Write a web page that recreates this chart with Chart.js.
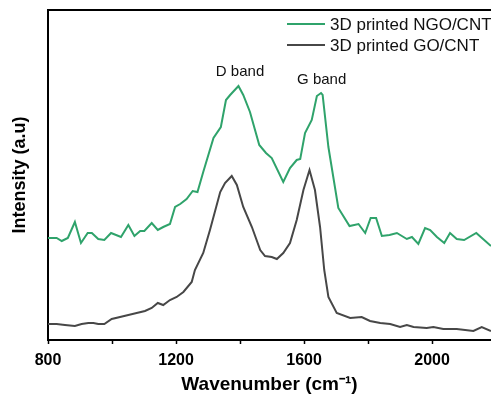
<!DOCTYPE html>
<html>
<head>
<meta charset="utf-8">
<script src="https://cdn.jsdelivr.net/npm/chart.js@4.4.1/dist/chart.umd.min.js"></script>
<style>
  html, body { margin: 0; padding: 0; background: #fff; }
  #wrap { width: 491px; height: 399px; }
</style>
</head>
<body>
<div id="wrap"><canvas id="raman"></canvas></div>
<script>
// Raman spectra (wavenumber in cm-1, intensity in arbitrary units)
const ngoX = [800, 827, 843, 862, 884, 903, 924, 937, 957, 976, 997, 1028, 1051, 1070, 1088, 1101, 1124, 1143, 1160, 1181,
    1197, 1213, 1233, 1252, 1267, 1285, 1317, 1340, 1356, 1369, 1395, 1410, 1431, 1460, 1481, 1499, 1535, 1556, 1577, 1588,
    1603, 1624, 1640, 1653, 1658, 1676, 1707, 1742, 1770, 1791, 1808, 1825, 1843, 1867, 1890, 1921, 1937, 1957, 1978, 1994,
    2015, 2038, 2056, 2077, 2100, 2138, 2184];
const ngoY = [102, 102, 99, 102, 118, 97, 107, 107, 101, 100, 107, 103, 115, 104, 109, 109, 117, 110, 113, 116,
    133, 136, 141, 149, 148, 168, 202, 213, 240, 245, 254, 245, 228, 195, 187, 182, 158, 172, 180, 181,
    207, 220, 244, 247, 245, 193, 132, 114, 116, 107, 122, 122, 104, 105, 107, 101, 103, 96, 112, 110,
    103, 97, 107, 101, 100, 107, 94];

const goX = [800, 827, 853, 884, 905, 926, 942, 957, 976, 999, 1025, 1051, 1077, 1103, 1124, 1143, 1160, 1181, 1202, 1223,
    1249, 1259, 1285, 1306, 1338, 1353, 1374, 1390, 1410, 1437, 1463, 1478, 1499, 1515, 1535, 1556, 1577, 1598, 1617, 1634,
    1650, 1663, 1676, 1702, 1744, 1780, 1806, 1838, 1869, 1900, 1921, 1942, 1983, 2004, 2035, 2077, 2129, 2155, 2184];
const goY = [16, 16, 15, 14, 16, 17, 17, 16, 16, 21, 23, 25, 27, 29, 32, 37, 35, 40, 43, 48,
    58, 70, 87, 110, 148, 157, 164, 155, 133, 113, 90, 84, 83, 81, 87, 97, 120, 150, 170, 150,
    113, 70, 43, 27, 22, 23, 19, 17, 16, 13, 15, 13, 12, 13, 11, 11, 9, 13, 9];

const seriesNames = ['3D printed NGO/CNT', '3D printed GO/CNT'];
const seriesColors = ['#2fa36b', '#474747'];

// peak labels
const bandLabels = ['D band', 'G band'];
const bandX = [1400, 1655];
const bandY = [268, 260];

// tick marks every 200, labels every 400
const xTicks = [800, 1000, 1200, 1400, 1600, 1800, 2000];
const xTickLabels = [800, 1200, 1600, 2000];

const FONT = '"Liberation Sans", Arial, sans-serif';

const toPoints = (xs, ys) => xs.map((x, i) => ({ x: x, y: ys[i] }));

// top frame line, legend and band labels
const extras = {
    id: 'extras',
    afterDraw(chart) {
        const ctx = chart.ctx;
        const area = chart.chartArea;
        ctx.save();

        ctx.strokeStyle = '#000';
        ctx.lineWidth = 2;
        ctx.beginPath();
        ctx.moveTo(area.left - 1, area.top);
        ctx.lineTo(area.right, area.top);
        ctx.stroke();

        // legend
        ctx.font = '17px ' + FONT;
        ctx.textBaseline = 'middle';
        ctx.textAlign = 'left';
        chart.data.datasets.forEach((ds, i) => {
            const y = area.top + 14 + i * 21;
            const x0 = area.left + 239;
            ctx.strokeStyle = ds.borderColor;
            ctx.lineWidth = 2;
            ctx.beginPath();
            ctx.moveTo(x0, y);
            ctx.lineTo(x0 + 38, y);
            ctx.stroke();
            ctx.fillStyle = '#111';
            ctx.fillText(ds.label, x0 + 43, y + 1);
        });

        // band labels
        const xs = chart.scales.x;
        const ys = chart.scales.y;
        ctx.font = '15px ' + FONT;
        ctx.textAlign = 'center';
        bandLabels.forEach((t, i) => {
            ctx.fillText(t, xs.getPixelForValue(bandX[i]), ys.getPixelForValue(bandY[i]));
        });
        ctx.restore();
    }
};

new Chart(document.getElementById('raman'), {
    type: 'line',
    data: {
        datasets: [
            {
                label: seriesNames[0],
                data: toPoints(ngoX, ngoY),
                borderColor: seriesColors[0],
                borderWidth: 2,
                pointRadius: 0,
                tension: 0,
                fill: false
            },
            {
                label: seriesNames[1],
                data: toPoints(goX, goY),
                borderColor: seriesColors[1],
                borderWidth: 2,
                pointRadius: 0,
                tension: 0,
                fill: false
            }
        ]
    },
    options: {
        responsive: true,
        maintainAspectRatio: false,
        animation: false,
        layout: { padding: { top: 10, right: 0, bottom: 0, left: 0 } },
        plugins: {
            legend: { display: false },
            tooltip: { enabled: false }
        },
        scales: {
            x: {
                type: 'linear',
                bounds: 'data',
                min: 800,
                max: 2184,
                afterBuildTicks: (s) => { s.ticks = xTicks.map(v => ({ value: v })); },
                afterFit: (s) => { s.height = 59; },
                border: { color: '#000', width: 2 },
                grid: {
                    drawOnChartArea: false,
                    color: '#000',
                    tickLength: 4,
                    tickWidth: 1.5
                },
                ticks: {
                    autoSkip: false,
                    maxRotation: 0,
                    padding: 7,
                    color: '#000',
                    font: { family: FONT, size: 16, weight: 'bold' },
                    callback: (v) => xTickLabels.indexOf(Math.round(v)) >= 0 ? String(Math.round(v)) : ''
                },
                title: {
                    display: true,
                    text: 'Wavenumber (cm\u207B\u00B9)',
                    color: '#000',
                    font: { family: FONT, size: 19, weight: 'bold' },
                    padding: { top: 0, bottom: 3 }
                }
            },
            y: {
                min: 0,
                max: 330,
                afterFit: (s) => { s.width = 48; },
                border: { color: '#000', width: 2 },
                grid: { display: false },
                ticks: { display: false },
                title: {
                    display: true,
                    text: 'Intensity (a.u)',
                    color: '#000',
                    font: { family: FONT, size: 18, weight: 'bold' },
                    padding: { top: 9, bottom: 0 }
                }
            }
        }
    },
    plugins: [extras]
});
</script>
</body>
</html>
